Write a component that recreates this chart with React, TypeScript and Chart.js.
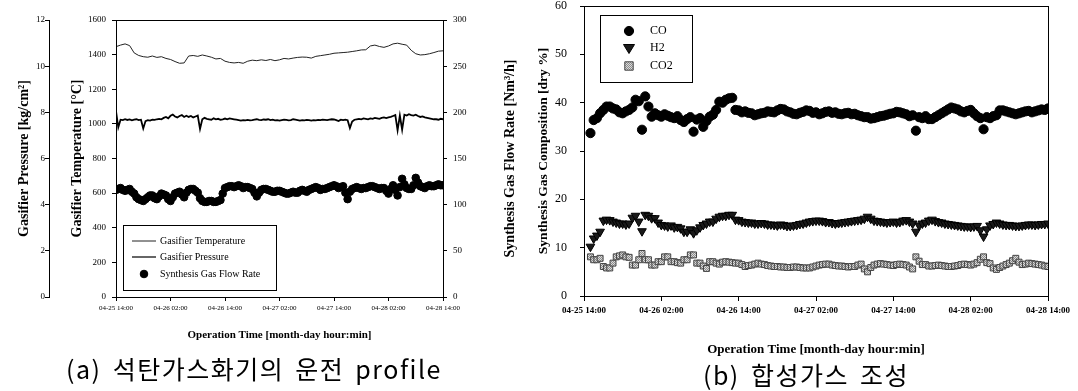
import { useEffect, useRef } from 'react';
import { Chart, registerables } from 'chart.js';

Chart.register(...registerables);

// ---------- shared time axis ----------
const xTickLabels = ['04-25 14:00', '04-26 02:00', '04-26 14:00', '04-27 02:00', '04-27 14:00', '04-28 02:00', '04-28 14:00'];
const tickStepHours = 12;
const totalHours = 72;

// ---------- (a) gasifier operation profile ----------
// hourly samples, 0..72 h
const gasifierTemperature = [
  1446, 1455, 1462, 1452, 1410, 1395, 1388, 1385, 1392, 1384,
  1388, 1378, 1372, 1360, 1350, 1352, 1392, 1395, 1390, 1398,
  1392, 1385, 1375, 1378, 1362, 1355, 1352, 1355, 1350, 1362,
  1368, 1365, 1370, 1366, 1372, 1365, 1370, 1378, 1375, 1380,
  1384, 1386, 1385, 1380, 1390, 1394, 1398, 1402, 1408, 1410,
  1412, 1414, 1418, 1422, 1427, 1428, 1450, 1455, 1447, 1442,
  1450, 1462, 1466, 1460, 1455, 1425, 1405, 1398, 1400, 1405,
  1412, 1420, 1422,
];
// half-hourly samples, 0..72 h
const halfHour = 0.5;
const gasifierPressure = [
  8.05, 7.35, 7.68, 7.66, 7.70, 7.67, 7.69, 7.65, 7.68, 7.70, 7.66,
  7.68, 7.30, 7.62, 7.66, 7.64, 7.68, 7.67, 7.70, 7.72, 7.70,
  7.76, 7.80, 7.74, 7.85, 7.90, 7.82, 7.78, 7.84, 7.88, 7.80,
  7.85, 7.80, 7.84, 7.78, 7.82, 7.86, 7.28, 7.70, 7.76, 7.72,
  7.70, 7.68, 7.74, 7.70, 7.72, 7.68, 7.70, 7.73, 7.70, 7.74,
  7.72, 7.70, 7.68, 7.66, 7.64, 7.66, 7.65, 7.67, 7.65, 7.66,
  7.68, 7.70, 7.67, 7.66, 7.69, 7.68, 7.70, 7.66, 7.68, 7.65,
  7.66, 7.64, 7.66, 7.68, 7.67, 7.65, 7.66, 7.70, 7.68, 7.66,
  7.64, 7.66, 7.65, 7.67, 7.66, 7.64, 7.66, 7.65, 7.67, 7.66,
  7.68, 7.67, 7.66, 7.68, 7.70, 7.69, 7.66, 7.62, 7.68, 7.66,
  7.68, 7.66, 7.32, 7.60, 7.68, 7.70, 7.72, 7.70, 7.74, 7.72,
  7.70, 7.74, 7.72, 7.76, 7.74, 7.72, 7.76, 7.78, 7.75, 7.78,
  7.80, 7.84, 7.88, 7.22, 7.86, 7.25, 7.90, 7.86, 7.92, 7.88,
  7.86, 7.90, 7.84, 7.80, 7.82, 7.78, 7.76, 7.74, 7.72, 7.70,
  7.70, 7.68, 7.72, 7.70,
];
// half-hourly samples, 0..72 h
const synGasFlowRate = [
  116, 117, 118, 116, 115, 116, 117, 114, 112, 108,
  106, 105, 104, 106, 108, 110, 110, 107, 106, 109,
  112, 111, 110, 106, 104, 108, 112, 113, 114, 111,
  108, 113, 116, 117, 117, 115, 113, 107, 104, 103,
  103, 104, 104, 103, 103, 104, 105, 112, 118, 119,
  120, 120, 119, 120, 121, 120, 118, 119, 119, 118,
  117, 113, 109, 113, 116, 117, 117, 116, 115, 114,
  114, 115, 115, 114, 113, 112, 112, 113, 114, 113,
  113, 115, 116, 115, 114, 116, 117, 118, 119, 118,
  116, 117, 117, 118, 119, 120, 121, 120, 118, 119,
  120, 113, 106, 114, 117, 118, 119, 118, 117, 118,
  118, 119, 120, 120, 119, 118, 117, 118, 118, 115,
  112, 117, 121, 116, 110, 119, 128, 122, 118, 117,
  117, 121, 129, 124, 120, 119, 118, 120, 121, 120,
  120, 121, 122, 121, 121,
];

// ---------- (b) synthesis gas composition, half-hourly 1..72 h ----------
const compositionStartHour = 1;
const coPct = [
  33.7, 36.4, 36.8, 37.8, 38.5, 39.2, 39.2, 38.8, 38.6, 38.0,
  37.8, 38.2, 38.5, 39.0, 40.6, 40.3, 34.4, 41.3, 39.2, 37.1,
  37.8, 37.4, 37.1, 37.6, 37.3, 37.0, 36.8, 37.2, 36.4, 36.0,
  36.6, 37.0, 34.0, 36.5, 36.8, 35.0, 36.2, 37.1, 37.5, 38.5,
  40.2, 40.0, 40.6, 40.9, 41.0, 38.5, 38.4, 38.0, 38.2, 37.9,
  37.8, 37.4, 37.6, 37.8, 37.9, 38.2, 38.1, 38.0, 38.4, 38.7,
  38.6, 38.2, 38.0, 37.7, 37.6, 37.9, 38.1, 38.4, 38.3, 37.9,
  38.0, 37.6, 37.8, 38.1, 38.2, 37.9, 38.0, 37.7, 37.6, 37.8,
  37.9, 37.6, 37.7, 37.4, 37.2, 37.0, 37.0, 36.7, 36.8, 37.0,
  37.2, 37.3, 37.5, 37.7, 37.8, 38.1, 38.0, 37.8, 37.6, 37.2,
  37.4, 34.2, 37.0, 36.8, 37.2, 36.6, 36.6, 37.0, 37.4, 37.8,
  38.2, 38.6, 39.0, 38.8, 38.6, 38.2, 38.0, 38.3, 38.5, 37.8,
  37.2, 36.8, 34.5, 37.0, 36.8, 37.2, 37.4, 38.4, 38.4, 38.2,
  38.0, 37.8, 37.6, 37.8, 38.0, 38.2, 38.3, 38.0, 38.2, 38.4,
  38.6, 38.5, 38.8,
];
const h2Pct = [
  10.2, 11.9, 12.5, 13.3, 15.6, 15.8, 15.7, 15.4, 15.2, 15.0,
  15.0, 14.8, 15.0, 16.2, 16.6, 15.4, 13.4, 16.8, 16.6, 16.1,
  16.1, 15.2, 14.7, 14.6, 14.4, 14.6, 14.2, 14.3, 14.0, 13.3,
  13.3, 13.8, 13.0, 13.6, 14.2, 14.7, 15.0, 15.4, 15.4, 16.0,
  16.4, 16.6, 16.6, 16.8, 16.8, 15.8, 15.7, 15.4, 15.3, 15.2,
  15.2, 15.0, 15.0, 15.1, 15.0, 14.8, 14.8, 14.7, 14.6, 14.8,
  14.7, 14.5, 14.5, 14.6, 14.7, 14.9, 15.0, 15.2, 15.4, 15.5,
  15.6, 15.6, 15.5, 15.3, 15.3, 15.1, 15.0, 15.1, 15.2, 15.3,
  15.4, 15.5, 15.6, 15.7, 15.8, 16.0, 16.4, 16.0, 15.6, 15.5,
  15.4, 15.3, 15.2, 15.3, 15.4, 15.2, 15.3, 15.6, 15.7, 15.4,
  15.0, 13.3, 14.6, 15.0, 15.2, 15.6, 15.8, 15.5, 15.3, 15.2,
  15.0, 14.9, 14.8, 14.7, 14.6, 14.5, 14.4, 14.4, 14.3, 14.4,
  14.5, 13.6, 12.3, 13.8, 14.6, 14.9, 15.2, 15.0, 14.8, 14.7,
  14.7, 14.6, 14.5, 14.5, 14.6, 14.7, 14.8, 14.8, 14.7, 14.8,
  14.9, 14.9, 15.0,
];
const co2Pct = [
  8.1, 7.5, 7.5, 7.8, 6.1, 5.8, 5.8, 6.8, 8.1, 8.3,
  8.5, 8.1, 8.0, 6.4, 6.4, 7.5, 8.8, 7.5, 7.5, 6.4,
  6.4, 7.1, 7.1, 8.1, 8.1, 7.1, 7.1, 6.9, 6.8, 7.5,
  7.5, 8.5, 8.5, 6.8, 6.8, 6.2, 5.7, 7.1, 7.1, 6.8,
  6.6, 7.0, 7.1, 7.0, 6.9, 6.8, 6.8, 6.5, 6.1, 6.3,
  6.4, 6.6, 6.8, 6.6, 6.5, 6.3, 6.2, 6.1, 6.1, 6.0,
  6.0, 5.9, 5.9, 6.0, 6.0, 5.9, 5.8, 5.8, 5.8, 6.0,
  6.2, 6.4, 6.5, 6.6, 6.6, 6.4, 6.3, 6.2, 6.2, 6.1,
  6.0, 6.1, 6.1, 6.4, 6.6, 5.6, 5.0, 5.9, 6.4, 6.6,
  6.7, 6.6, 6.5, 6.4, 6.3, 6.5, 6.6, 6.5, 6.4, 6.0,
  5.6, 8.1, 7.2, 6.5, 6.5, 6.2, 6.2, 6.3, 6.4, 6.3,
  6.2, 6.1, 6.1, 6.2, 6.3, 6.5, 6.6, 6.5, 6.4, 6.6,
  6.9, 7.6, 8.1, 6.9, 6.7, 5.8, 5.5, 5.9, 6.2, 6.5,
  6.8, 7.3, 7.8, 7.0, 6.5, 6.6, 6.8, 6.7, 6.6, 6.5,
  6.4, 6.2, 6.1,
];

const SERIF = '"Liberation Serif", "Times New Roman", serif';
const KR = '"Noto Sans CJK KR", "Noto Sans", sans-serif';

const toPoints = (vals: number[], start: number, step: number) =>
  vals.map((v, i) => ({ x: start + i * step, y: v }));

const tickLabel = (v: any) => {
  const idx = Number(v) / tickStepHours;
  return Number.isInteger(idx) ? xTickLabels[idx] ?? '' : '';
};
const plainNumber = (v: any) => String(v);

function hatchPattern(): any {
  const c = document.createElement('canvas');
  c.width = 2; c.height = 2;
  const g = c.getContext('2d') as CanvasRenderingContext2D;
  g.fillStyle = '#dcdcdc'; g.fillRect(0, 0, 2, 2);
  g.fillStyle = '#8c8c8c'; g.fillRect(0, 0, 1, 1); g.fillRect(1, 1, 1, 1);
  return g.createPattern(c, 'repeat') || '#bbbbbb';
}

function drawMarker(ctx: CanvasRenderingContext2D, ds: any, x: number, y: number, half: number) {
  if (ds.legendKind === 'line') {
    ctx.strokeStyle = ds.borderColor;
    ctx.lineWidth = Math.min(ds.borderWidth, 1.2);
    ctx.beginPath(); ctx.moveTo(x - half, y); ctx.lineTo(x + half, y); ctx.stroke();
    return;
  }
  const r = ds.pointRadius;
  ctx.fillStyle = ds.pointBackgroundColor ?? ds.backgroundColor;
  ctx.strokeStyle = ds.pointBorderColor ?? ds.borderColor;
  ctx.lineWidth = ds.pointBorderWidth ?? 1;
  ctx.beginPath();
  if (ds.pointStyle === 'rect') {
    ctx.rect(x - r, y - r, 2 * r, 2 * r);
  } else if (ds.pointStyle === 'triangle') {
    ctx.moveTo(x - r * 1.1, y - r * 0.7);
    ctx.lineTo(x + r * 1.1, y - r * 0.7);
    ctx.lineTo(x, y + r * 1.1);
    ctx.closePath();
  } else {
    ctx.arc(x, y, r, 0, Math.PI * 2);
  }
  ctx.fill(); ctx.stroke();
}

const boxLegendPlugin = {
  id: 'boxLegend',
  afterDraw(chart: any, _args: any, opts: any) {
    if (!opts || !opts.box) return;
    const { ctx } = chart;
    const { box, rows, markerX, textX, font, half } = opts;
    ctx.save();
    ctx.fillStyle = '#ffffff';
    ctx.fillRect(box.x, box.y, box.w, box.h);
    ctx.strokeStyle = '#000'; ctx.lineWidth = 1;
    ctx.strokeRect(box.x + 0.5, box.y + 0.5, box.w, box.h);
    chart.data.datasets.forEach((ds: any, i: number) => {
      const y = rows[i];
      drawMarker(ctx, ds, markerX, y, half);
      ctx.fillStyle = '#000';
      ctx.font = font;
      ctx.textBaseline = 'middle';
      ctx.textAlign = 'left';
      ctx.fillText(ds.label, textX, y);
    });
    ctx.restore();
  },
};

const framePlugin = {
  id: 'frame',
  afterDatasetsDraw(chart: any) {
    const { ctx, chartArea } = chart;
    const { left, top, right, bottom } = chartArea;
    ctx.save();
    ctx.strokeStyle = '#000'; ctx.lineWidth = 1;
    ctx.strokeRect(Math.round(left) + 0.5, Math.round(top) + 0.5, Math.round(right - left), Math.round(bottom - top));
    ctx.restore();
  },
};

// right-side axis title that reads bottom-to-top
const sideTitlePlugin = {
  id: 'sideTitle',
  afterDraw(chart: any, _args: any, opts: any) {
    if (!opts || !opts.text) return;
    const { ctx, chartArea } = chart;
    ctx.save();
    ctx.translate(opts.x, (chartArea.top + chartArea.bottom) / 2);
    ctx.rotate(-Math.PI / 2);
    ctx.font = opts.font;
    ctx.fillStyle = '#000';
    ctx.textAlign = 'center';
    ctx.textBaseline = 'middle';
    ctx.fillText(opts.text, 0, 0);
    ctx.restore();
  },
};

function configA(): any {
  return {
    type: 'line',
    data: {
      datasets: [
        {
          label: 'Gasifier Temperature',
          legendKind: 'line',
          data: toPoints(gasifierTemperature, 0, 1),
          yAxisID: 'yT',
          borderColor: '#222',
          borderWidth: 1,
          pointRadius: 0,
          tension: 0,
        },
        {
          label: 'Gasifier Pressure',
          legendKind: 'line',
          data: toPoints(gasifierPressure, 0, halfHour),
          yAxisID: 'yP',
          borderColor: '#000',
          borderWidth: 1.8,
          pointRadius: 0,
          tension: 0,
        },
        {
          label: 'Synthesis Gas Flow Rate',
          legendKind: 'point',
          data: toPoints(synGasFlowRate, 0, halfHour),
          yAxisID: 'yF',
          showLine: false,
          pointStyle: 'circle',
          pointRadius: 3.8,
          backgroundColor: '#000',
          borderColor: '#000',
          pointBackgroundColor: '#000',
          pointBorderColor: '#000',
          pointBorderWidth: 1,
        },
      ],
    },
    options: {
      animation: false,
      responsive: false,
      maintainAspectRatio: false,
      layout: { padding: { left: 0, top: 20, right: 0, bottom: 0 } },
      plugins: {
        legend: { display: false },
        tooltip: { enabled: false },
        boxLegend: {
          box: { x: 123, y: 225, w: 153, h: 65 },
          rows: [241, 257, 274],
          markerX: 144,
          half: 12,
          textX: 160,
          font: `10px ${SERIF}`,
        },
        sideTitle: { text: 'Synthesis Gas Flow Rate [Nm³/h]', x: 510, font: `bold 14px ${SERIF}` },
      },
      scales: {
        x: {
          type: 'linear', min: 0, max: totalHours,
          afterFit: (s: any) => { s.height = 63; },
          ticks: { stepSize: tickStepHours, callback: tickLabel, autoSkip: false, maxRotation: 0, font: { family: SERIF, size: 7 }, color: '#000', padding: 3 },
          grid: { drawOnChartArea: false, tickLength: 4, color: '#000' },
          border: { color: '#000', width: 1 },
          title: { display: true, text: 'Operation Time [month-day hour:min]', color: '#000', font: { family: SERIF, size: 11, weight: 'bold' }, padding: { top: 0, bottom: 18 } },
        },
        yP: {
          type: 'linear', position: 'left', weight: 2, min: 0, max: 12,
          afterFit: (s: any) => { s.width = 49; },
          ticks: { stepSize: 2, callback: plainNumber, font: { family: SERIF, size: 9 }, color: '#000', padding: 0 },
          grid: { drawOnChartArea: false, tickLength: 4, color: '#000' },
          border: { color: '#000', width: 1 },
          title: { display: true, text: 'Gasifier Pressure [kg/cm²]', color: '#000', font: { family: SERIF, size: 14, weight: 'bold' }, padding: { top: 16, bottom: 0 } },
        },
        yT: {
          type: 'linear', position: 'left', weight: 1, min: 0, max: 1600,
          afterFit: (s: any) => { s.width = 67; },
          ticks: { stepSize: 200, callback: plainNumber, font: { family: SERIF, size: 9 }, color: '#000', padding: 6 },
          grid: { drawOnChartArea: false, tickLength: 4, color: '#000' },
          border: { color: '#000', width: 1 },
          title: { display: true, text: 'Gasifier Temperature [°C]', color: '#000', font: { family: SERIF, size: 14, weight: 'bold' }, padding: { top: 20, bottom: 0 } },
        },
        yF: {
          type: 'linear', position: 'right', min: 0, max: 300,
          afterFit: (s: any) => { s.width = 97; },
          ticks: { stepSize: 50, callback: plainNumber, font: { family: SERIF, size: 9 }, color: '#000', padding: 6 },
          grid: { drawOnChartArea: false, tickLength: 4, color: '#000' },
          border: { color: '#000', width: 1 },
          title: { display: false },
        },
      },
    },
    plugins: [framePlugin, boxLegendPlugin, sideTitlePlugin],
  };
}

function configB(): any {
  const hatch = hatchPattern();
  return {
    type: 'line',
    data: {
      datasets: [
        {
          label: 'CO',
          legendKind: 'point',
          data: toPoints(coPct, compositionStartHour, halfHour),
          showLine: false,
          pointStyle: 'circle',
          pointRadius: 4.6,
          backgroundColor: '#000',
          borderColor: '#000',
          pointBackgroundColor: '#000',
          pointBorderColor: '#000',
          pointBorderWidth: 1,
        },
        {
          label: 'H2',
          legendKind: 'point',
          data: toPoints(h2Pct, compositionStartHour, halfHour),
          showLine: false,
          pointStyle: 'triangle',
          rotation: 180,
          pointRadius: 5,
          backgroundColor: '#1a1a1a',
          borderColor: '#000',
          pointBackgroundColor: '#1a1a1a',
          pointBorderColor: '#000',
          pointBorderWidth: 1,
        },
        {
          label: 'CO2',
          legendKind: 'point',
          data: toPoints(co2Pct, compositionStartHour, halfHour),
          showLine: false,
          pointStyle: 'rect',
          pointRadius: 4.2,
          backgroundColor: hatch,
          borderColor: '#444',
          pointBackgroundColor: hatch,
          pointBorderColor: '#444',
          pointBorderWidth: 1,
        },
      ],
    },
    options: {
      animation: false,
      responsive: false,
      maintainAspectRatio: false,
      layout: { padding: { left: 0, top: 6, right: 30, bottom: 0 } },
      plugins: {
        legend: { display: false },
        tooltip: { enabled: false },
        boxLegend: {
          box: { x: 72, y: 15, w: 92, h: 67 },
          rows: [31, 48, 66],
          markerX: 101,
          half: 6,
          textX: 122,
          font: `12px ${SERIF}`,
        },
      },
      scales: {
        x: {
          type: 'linear', min: 0, max: totalHours,
          afterFit: (s: any) => { s.height = 64; },
          ticks: { stepSize: tickStepHours, callback: tickLabel, autoSkip: false, maxRotation: 0, font: { family: SERIF, size: 9, weight: 'bold' }, color: '#000', padding: 4 },
          grid: { drawOnChartArea: false, tickLength: 5, color: '#000' },
          border: { color: '#000', width: 1 },
          title: { display: true, text: 'Operation Time [month-day hour:min]', color: '#000', font: { family: SERIF, size: 13, weight: 'bold' }, padding: { top: 0, bottom: 3 } },
        },
        y: {
          type: 'linear', position: 'left', min: 0, max: 60,
          afterFit: (s: any) => { s.width = 56; s.paddingTop = 6; s.paddingBottom = 6; },
          ticks: { stepSize: 10, callback: plainNumber, font: { family: SERIF, size: 12 }, color: '#000', padding: 13 },
          grid: { drawOnChartArea: false, tickLength: 4, color: '#000' },
          border: { color: '#000', width: 1 },
          title: { display: true, text: 'Synthesis Gas Composition [dry %]', color: '#000', font: { family: SERIF, size: 13.5, weight: 'bold' }, padding: { top: 7, bottom: 0 } },
        },
      },
    },
    plugins: [framePlugin, boxLegendPlugin],
  };
}

export default function App() {
  const refA = useRef<HTMLCanvasElement>(null);
  const refB = useRef<HTMLCanvasElement>(null);

  useEffect(() => {
    const charts: Chart[] = [];
    if (refA.current) charts.push(new Chart(refA.current, configA()));
    if (refB.current) charts.push(new Chart(refB.current, configB()));
    return () => charts.forEach((c) => c.destroy());
  }, []);

  const caption: any = {
    position: 'absolute',
    width: 440,
    fontFamily: KR,
    fontSize: 25,
    lineHeight: '28px',
    textAlign: 'center',
    whiteSpace: 'pre',
    letterSpacing: '1.5px',
    wordSpacing: '4px',
    color: '#000',
  };

  return (
    <div style={{ position: 'absolute', left: 0, top: 0, width: 1078, height: 391, background: '#fff', overflow: 'hidden' }}>
      <canvas ref={refA} width={540} height={360} style={{ position: 'absolute', left: 0, top: 0, width: 540, height: 360 }} />
      <canvas ref={refB} width={550} height={360} style={{ position: 'absolute', left: 528, top: 0, width: 550, height: 360 }} />
      <div style={{ ...caption, left: 254 - 220, top: 354 }}>(a) 석탄가스화기의 운전 profile</div>
      <div style={{ ...caption, left: 806 - 220, top: 360 }}>(b) 합성가스 조성</div>
    </div>
  );
}
